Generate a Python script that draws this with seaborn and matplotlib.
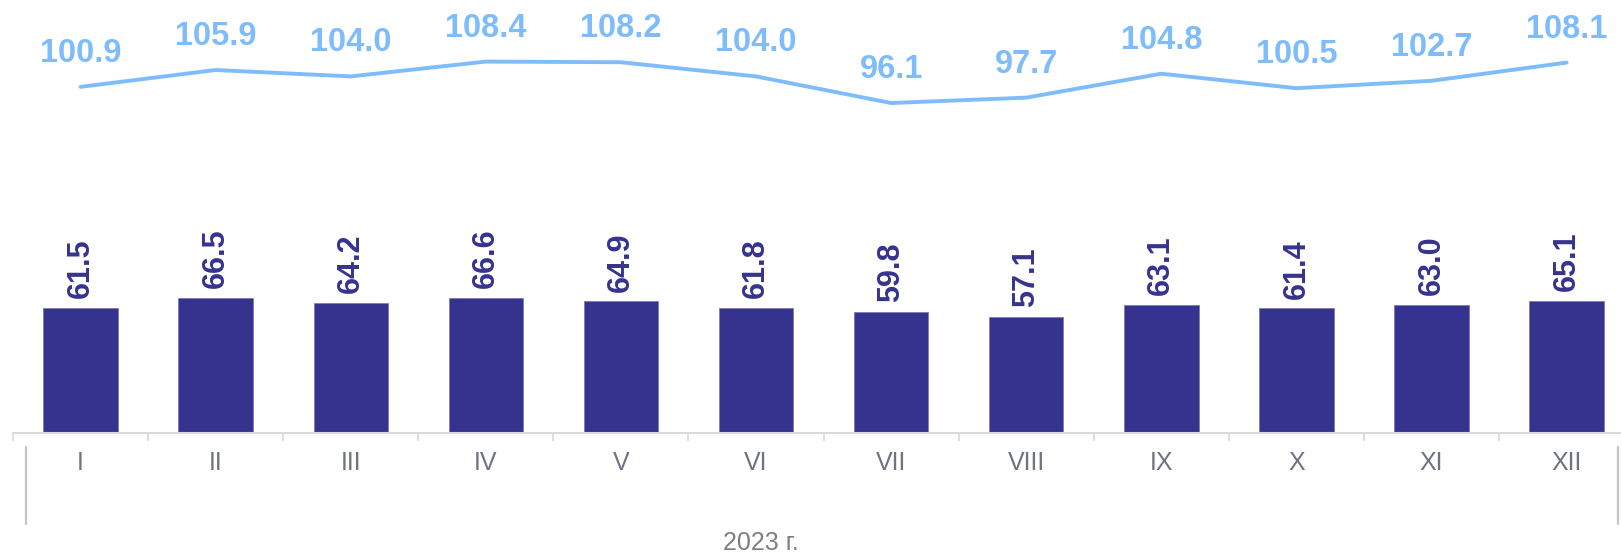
import numpy as np
import pandas as pd
import matplotlib
matplotlib.use("Agg")
import matplotlib.pyplot as plt
from matplotlib.lines import Line2D
from matplotlib.ticker import FixedLocator
import seaborn as sns

months = ["I", "II", "III", "IV", "V", "VI", "VII", "VIII", "IX", "X", "XI", "XII"]
bar_values = [61.5, 66.5, 64.2, 66.6, 64.9, 61.8, 59.8, 57.1, 63.1, 61.4, 63.0, 65.1]
line_values = [100.9, 105.9, 104.0, 108.4, 108.2, 104.0, 96.1, 97.7, 104.8, 100.5, 102.7, 108.1]
group_label = "2023 г."

BAR_COLOR = "#36338f"
LINE_COLOR = "#7fbcfb"
TICK_COLOR = "#6e7380"

sns.set_style("white")
plt.rcParams["font.family"] = ["Liberation Sans", "DejaVu Sans"]

W, H = 1621, 552
fig = plt.figure(figsize=(W / 100, H / 100), dpi=100)

# axes geometry in pixels
left_px = 13
cat_px = 135.1
base_px = 433  # from top
ax = fig.add_axes([left_px / W, (H - base_px) / H, 12 * cat_px / W, base_px / H])

df = pd.DataFrame({"month": months, "value": bar_values})
sns.barplot(data=df, x="month", y="value", order=months, color=BAR_COLOR,
            width=0.55, saturation=1, edgecolor="#7d7bb8", linewidth=0.6, ax=ax)
ax.set_xlim(-0.5, 11.5)
ax.set_ylim(0, base_px / 2.03)

for c in ax.containers:
    ax.bar_label(c, labels=[f"{v:.1f}" for v in bar_values], rotation=90,
                 padding=7, color=BAR_COLOR, fontsize=22, fontweight="bold")

ax2 = ax.twinx()
ax2.set_position(ax.get_position())
sns.lineplot(x=np.arange(len(months)), y=line_values, color=LINE_COLOR,
             linewidth=2.8, ax=ax2)
scale = 3.37
ax2.set_ylim(105.9 - 363 / scale, 105.9 + 70 / scale)
ax2.set_xlim(-0.5, 11.5)
for i, v in enumerate(line_values):
    ax2.annotate(f"{v:.1f}", (i, v), xytext=(0, 18), textcoords="offset points",
                 ha="center", va="baseline", color=LINE_COLOR,
                 fontsize=23.5, fontweight="bold")
ax2.set_yticks([])
ax2.set_ylabel("")
for s in ax2.spines.values():
    s.set_visible(False)

ax.set_yticks([])
ax.set_xlabel("")
ax.set_ylabel("")
for s in ["top", "right", "left"]:
    ax.spines[s].set_visible(False)
ax.spines["bottom"].set_color("#d9d9de")
ax.spines["bottom"].set_linewidth(1.5)
ax.set_xticks(range(len(months)))
ax.set_xticklabels(months, color=TICK_COLOR, fontsize=18)
ax.tick_params(axis="x", which="major", length=0, pad=13)
ax.xaxis.set_minor_locator(FixedLocator(np.arange(-0.5, 12, 1.0)))
ax.tick_params(axis="x", which="minor", bottom=True, length=6, width=1.2,
               color="#d9d9de")

# group separators and label
for xp in (26, 1618):
    fig.add_artist(Line2D([xp / W, xp / W], [1 - 447 / H, 1 - 524 / H],
                          transform=fig.transFigure, color="#c4c4c4", linewidth=1.6))
fig.text(761 / W, 1 - 550 / H, group_label, ha="center", va="baseline",
         color="#7f7f7f", fontsize=18)

fig.savefig("out.png", dpi=100)
